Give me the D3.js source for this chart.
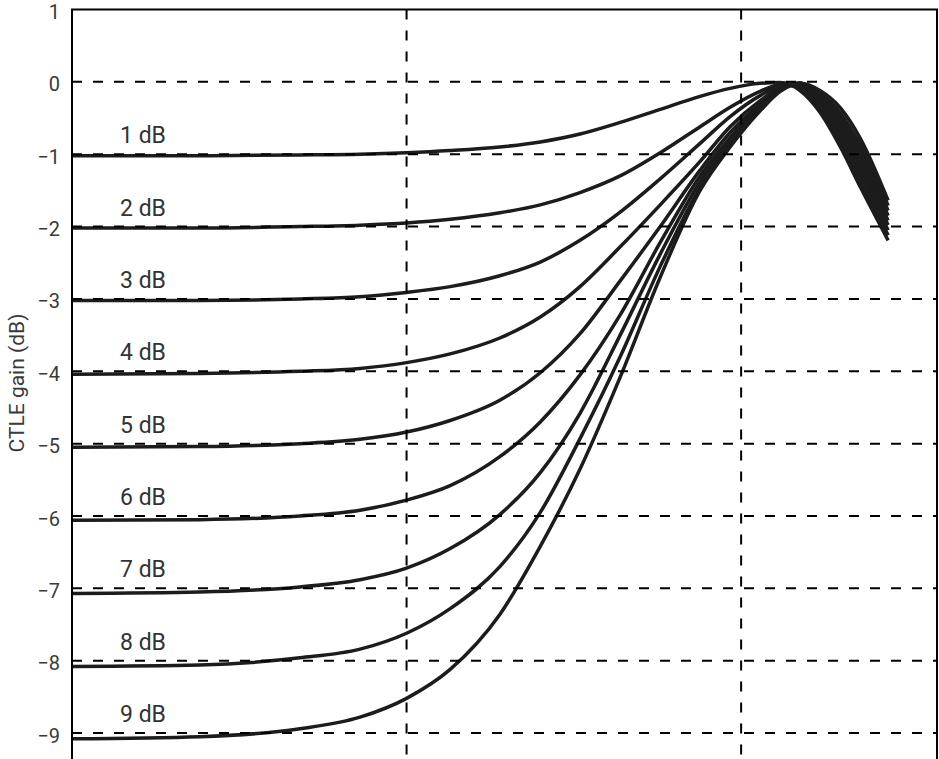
<!DOCTYPE html>
<html>
<head>
<meta charset="utf-8">
<script src="https://cdn.jsdelivr.net/npm/d3@7"></script>
<style>
  body { margin: 0; background: #fff; overflow: hidden; }
  #chart svg { display: block; }
</style>
</head>
<body>
<div id="chart"></div>
<script>
// sample frequencies (GHz) shared by all curves
const freqGHz = [0.1, 0.241, 0.48, 0.726, 1.0, 1.35, 1.9, 2.51, 3.3, 4.35, 5.73, 7.54, 9.27, 11.4, 13.1, 15.0, 17.2, 19.8, 22.7, 27.5];

// CTLE gain (dB) per peaking setting
const gain1dB = [-1.02, -1.02, -1.01, -1.00, -0.98, -0.95, -0.90, -0.83, -0.72, -0.56, -0.38, -0.20, -0.09, -0.02, -0.01, -0.12, -0.42, -0.90, -1.45, -2.19];
const gain2dB = [-2.02, -2.02, -2.00, -1.98, -1.95, -1.90, -1.81, -1.70, -1.53, -1.30, -0.98, -0.62, -0.35, -0.13, -0.04, -0.08, -0.38, -0.83, -1.37, -2.12];
const gain3dB = [-3.02, -3.02, -3.00, -2.97, -2.91, -2.83, -2.68, -2.49, -2.19, -1.80, -1.34, -0.85, -0.48, -0.19, -0.06, -0.04, -0.345, -0.765, -1.28, -2.05];
const gain4dB = [-4.04, -4.03, -4.00, -3.96, -3.88, -3.76, -3.54, -3.25, -2.83, -2.28, -1.70, -1.10, -0.62, -0.26, -0.08, -0.03, -0.31, -0.70, -1.20, -1.98];
const gain5dB = [-5.05, -5.04, -5.00, -4.94, -4.84, -4.68, -4.40, -4.02, -3.48, -2.75, -2.00, -1.22, -0.70, -0.30, -0.09, -0.02, -0.27, -0.63, -1.12, -1.915];
const gain6dB = [-6.06, -6.05, -6.00, -5.92, -5.78, -5.58, -5.18, -4.70, -4.05, -3.22, -2.22, -1.30, -0.77, -0.33, -0.10, -0.02, -0.23, -0.56, -1.03, -1.85];
const gain7dB = [-7.07, -7.05, -6.98, -6.88, -6.72, -6.45, -5.98, -5.40, -4.58, -3.50, -2.38, -1.38, -0.82, -0.35, -0.11, -0.02, -0.195, -0.495, -0.95, -1.78];
const gain8dB = [-8.08, -8.06, -7.96, -7.84, -7.62, -7.28, -6.70, -5.95, -4.93, -3.80, -2.55, -1.46, -0.86, -0.37, -0.12, -0.02, -0.16, -0.43, -0.87, -1.71];
const gain9dB = [-9.08, -9.05, -8.94, -8.78, -8.52, -8.12, -7.36, -6.42, -5.35, -4.08, -2.70, -1.50, -0.90, -0.40, -0.13, -0.02, -0.12, -0.36, -0.78, -1.64];

const curveLabels = ["1 dB", "2 dB", "3 dB", "4 dB", "5 dB", "6 dB", "7 dB", "8 dB", "9 dB"];
const curveLevels = [-1, -2, -3, -4, -5, -6, -7, -8, -9];
const yTicks = [1, 0, -1, -2, -3, -4, -5, -6, -7, -8, -9];
const xGrid = [1, 10];

const series = [gain1dB, gain2dB, gain3dB, gain4dB, gain5dB, gain6dB, gain7dB, gain8dB, gain9dB];

var margin = {top: 9.5, left: 72},
    width = 937 - margin.left,
    height = 767;

var svg = d3.select("#chart")
  .append("svg")
  .attr("width", 939)
  .attr("height", 759)
  .append("g")
  .attr("transform", "translate(" + margin.left + "," + margin.top + ")");

// log frequency axis, linear gain axis
const x = d3.scaleLog().domain([0.1, 38.5]).range([0, width]);
const y = d3.scaleLinear().domain([1, -9.6]).range([0, height]);

// curves first, the grid goes on top of them
const line = d3.line()
  .x((d, i) => x(freqGHz[i]))
  .y(d => y(d))
  .curve(d3.curveMonotoneX);

svg.selectAll(".ctle")
  .data(series)
  .enter()
  .append("path")
  .attr("class", "ctle")
  .attr("fill", "none")
  .attr("stroke", "#1c1c1c")
  .attr("stroke-width", 3.5)
  .attr("d", line);

// horizontal dashed grid
svg.selectAll(".hgrid")
  .data(yTicks.filter(d => d < 1))
  .enter()
  .append("line")
  .attr("x1", 0)
  .attr("x2", width)
  .attr("y1", d => y(d))
  .attr("y2", d => y(d))
  .attr("stroke", "#000")
  .attr("stroke-width", 2)
  .attr("stroke-dasharray", "10,11");

// vertical dashed grid
svg.selectAll(".vgrid")
  .data(xGrid)
  .enter()
  .append("line")
  .attr("x1", d => x(d))
  .attr("x2", d => x(d))
  .attr("y1", 0)
  .attr("y2", height)
  .attr("stroke", "#000")
  .attr("stroke-width", 2)
  .attr("stroke-dasharray", "10,11");

// frame
svg.append("rect")
  .attr("x", 0)
  .attr("y", 0)
  .attr("width", width)
  .attr("height", height)
  .attr("fill", "none")
  .attr("stroke", "#000")
  .attr("stroke-width", 2);

// y axis labels
const yAxis = d3.axisLeft(y).tickValues(yTicks).tickSize(0).tickPadding(12);
svg.append("g")
  .call(yAxis)
  .call(g => g.select(".domain").remove())
  .selectAll("text")
  .attr("dy", "0.45em")
  .attr("font-family", "Roboto, sans-serif")
  .attr("font-size", 20)
  .attr("fill", "#3a3a3a");

svg.append("text")
  .attr("transform", "rotate(-90)")
  .attr("x", -373.5)
  .attr("y", -48)
  .attr("text-anchor", "middle")
  .attr("font-family", "Roboto, sans-serif")
  .attr("font-size", 21)
  .attr("fill", "#3a3a3a")
  .text("CTLE gain (dB)");

// curve labels
svg.selectAll(".lbl")
  .data(curveLabels)
  .enter()
  .append("text")
  .attr("x", 48)
  .attr("y", (d, i) => y(curveLevels[i]) - 11)
  .attr("font-family", "Roboto, sans-serif")
  .attr("font-size", 23)
  .attr("fill", "#333")
  .text(d => d);
</script>
</body>
</html>
